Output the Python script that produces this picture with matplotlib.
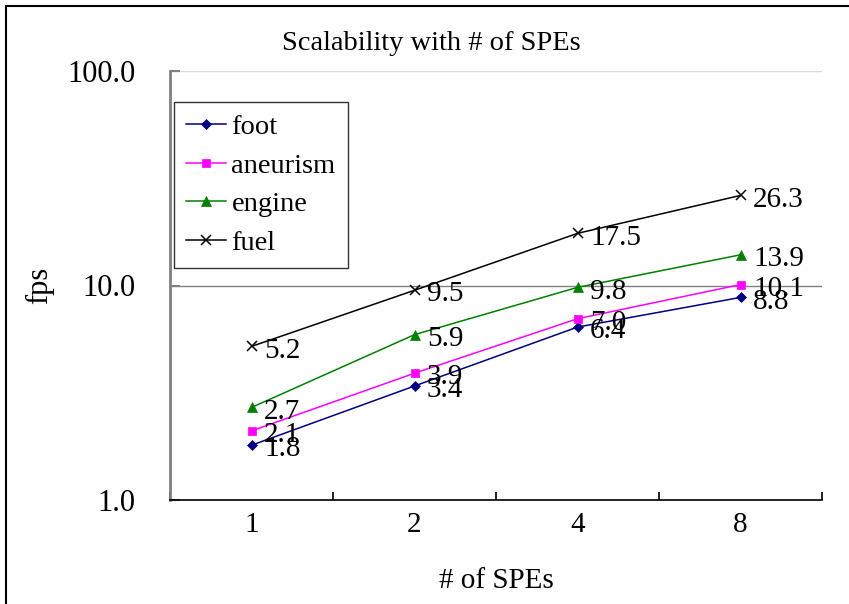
import numpy as np
import matplotlib
matplotlib.use('Agg')
import matplotlib.pyplot as plt
from matplotlib.patches import Rectangle

plt.rcParams['font.family'] = ['Liberation Serif', 'DejaVu Serif']

spes = ['1', '2', '4', '8']
foot = [1.8, 3.4, 6.4, 8.8]
aneurism = [2.1, 3.9, 7.0, 10.1]
engine = [2.7, 5.9, 9.8, 13.9]
fuel = [5.2, 9.5, 17.5, 26.3]

series = [
    ('foot', foot, '#000080', 'D', 5),
    ('aneurism', aneurism, '#FF00FF', 's', 6),
    ('engine', engine, '#008000', '^', 6.5),
    ('fuel', fuel, '#000000', 'x', 6.5),
]

W, H = 849, 604
fig = plt.figure(figsize=(W / 100, H / 100), dpi=100)
ax = fig.add_axes([170 / W, 1 - 500 / H, (822 - 170) / W, (500 - 71) / H])

x = np.arange(len(spes))
for name, vals, color, marker, ms in series:
    ax.plot(x, vals, color=color, marker=marker, markersize=ms, linewidth=1.1,
            markeredgewidth=1.1 if marker == 'x' else 0.5, label=name)
    for xi, v in zip(x, vals):
        ax.annotate(f'{v:.1f}', (xi, v), xytext=(9, -3), textcoords='offset points',
                    ha='left', va='center', fontsize=21)

ax.set_yscale('log')
ax.set_ylim(1, 100)
ax.set_yticks([1, 10, 100])
ax.set_yticklabels(['1.0', '10.0', '100.0'])
ax.minorticks_off()
ax.set_xlim(-0.5, len(spes) - 0.5)
ax.set_xticks(np.arange(len(spes) + 1) - 0.5)
ax.set_xticklabels([])
ax.set_xticks(x, minor=True)
ax.set_xticklabels(spes, minor=True)

ax.axhline(10, color='#808080', linewidth=1, zorder=0)
ax.axhline(100, color='#d9d9d9', linewidth=1, zorder=0)

for s in ['top', 'right']:
    ax.spines[s].set_visible(False)
ax.spines['left'].set_color('#808080')
ax.spines['left'].set_linewidth(2)
ax.spines['bottom'].set_color('black')
ax.spines['bottom'].set_linewidth(1.2)

ax.tick_params(axis='y', direction='in', length=7, width=1.5, color='#808080',
               labelsize=22, pad=25)
ax.tick_params(axis='x', which='major', direction='in', length=6, width=1.2, color='black')
ax.tick_params(axis='x', which='minor', length=0, labelsize=21, pad=9)

ax.set_ylabel('fps', fontsize=22, labelpad=9)
ax.set_xlabel('# of SPEs', fontsize=21, labelpad=21)

fig.text(431 / W, 1 - 44 / H, 'Scalability with # of SPEs', ha='center', va='center', fontsize=20.5)

leg = ax.legend(loc='upper left', bbox_to_anchor=(0.006, 0.928), borderaxespad=0,
                fontsize=20.5, fancybox=False, frameon=True, edgecolor='black',
                handlelength=1.4, handletextpad=0.2, labelspacing=0.45,
                borderpad=0.42)
leg.get_frame().set_linewidth(1)

fig.patches.append(Rectangle((6 / W, -0.1), 1.2, 1.1 - 6 / H, transform=fig.transFigure,
                             fill=False, edgecolor='black', linewidth=1.5))

fig.savefig('out.png', dpi=100)
